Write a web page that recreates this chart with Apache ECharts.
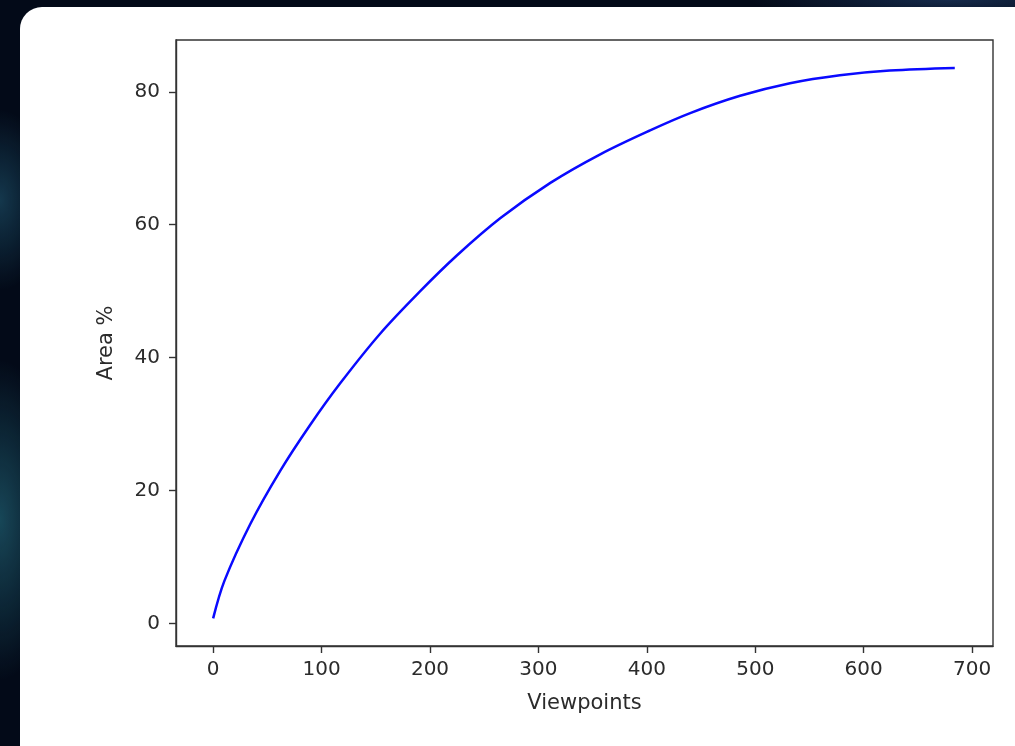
<!DOCTYPE html>
<html>
<head>
<meta charset="utf-8">
<script src="https://cdn.jsdelivr.net/npm/echarts@6/dist/echarts.min.js"></script>
<style>
  html, body { margin: 0; padding: 0; width: 1015px; height: 746px; overflow: hidden; }
  body {
    background:
      radial-gradient(ellipse 60px 160px at 0px 520px, rgba(40,120,140,0.55), rgba(0,0,0,0) 100%),
      radial-gradient(ellipse 50px 90px at 0px 200px, rgba(40,110,140,0.45), rgba(0,0,0,0) 100%),
      radial-gradient(ellipse 200px 20px at 950px 0px, rgba(50,90,150,0.4), rgba(0,0,0,0) 100%),
      #030a18;
  }
  #card { position: absolute; left: 20px; top: 7px; width: 1040px; height: 800px; background: #ffffff; border-radius: 22px; }
  #chart { position: absolute; left: 0; top: 0; width: 1015px; height: 746px; }
</style>
</head>
<body>
<div id="card"></div>
<div id="chart"></div>
<script>
// Data
const viewpoints = [0, 10.4, 34.4, 62, 89.6, 117, 154, 191, 225, 265, 311, 357, 403, 440, 486, 532, 578, 624, 684];
const areaPct    = [0.75, 6.4, 15, 23, 29.9, 36.1, 43.6, 50.0, 55.4, 61.0, 66.3, 70.6, 74.2, 76.8, 79.4, 81.3, 82.5, 83.2, 83.6];
const xTicks = [0, 100, 200, 300, 400, 500, 600, 700];
const yTicks = [0, 20, 40, 60, 80];
const xLabel = 'Viewpoints';
const yLabel = 'Area %';

const chart = echarts.init(document.getElementById('chart'), null, { renderer: 'canvas' });
const textColor = '#2b2b2b';
const frameColor = '#333333';
chart.setOption({
  backgroundColor: 'transparent',
  animation: false,
  grid: { left: 176, top: 40, right: 22, bottom: 100, show: true, borderColor: frameColor, borderWidth: 1.4, backgroundColor: 'transparent' },
  xAxis: {
    type: 'value', min: -34.25, max: 719.25,
    name: xLabel, nameLocation: 'middle', nameGap: 47,
    nameTextStyle: { fontFamily: 'DejaVu Sans', fontSize: 21, color: textColor },
    axisLine: { show: true, onZero: false, lineStyle: { color: frameColor, width: 1.4 } },
    axisTick: { show: true, length: 7, inside: false, customValues: xTicks, lineStyle: { color: frameColor, width: 1.4 } },
    axisLabel: { customValues: xTicks, margin: 14, fontFamily: 'DejaVu Sans', fontSize: 20, color: textColor },
    splitLine: { show: false }
  },
  yAxis: {
    type: 'value', min: -3.4, max: 87.8,
    name: yLabel, nameLocation: 'middle', nameGap: 59,
    nameTextStyle: { fontFamily: 'DejaVu Sans', fontSize: 21, color: textColor },
    axisLine: { show: true, onZero: false, lineStyle: { color: frameColor, width: 1.4 } },
    axisTick: { show: true, length: 7, inside: false, customValues: yTicks, lineStyle: { color: frameColor, width: 1.4 } },
    axisLabel: { customValues: yTicks, margin: 16, fontFamily: 'DejaVu Sans', fontSize: 20, color: textColor },
    splitLine: { show: false }
  },
  series: [{
    type: 'line',
    data: viewpoints.map((v, i) => [v, areaPct[i]]),
    smooth: 0.35,
    showSymbol: false,
    lineStyle: { color: '#0a0aff', width: 2.5 }
  }]
});
</script>
</body>
</html>
